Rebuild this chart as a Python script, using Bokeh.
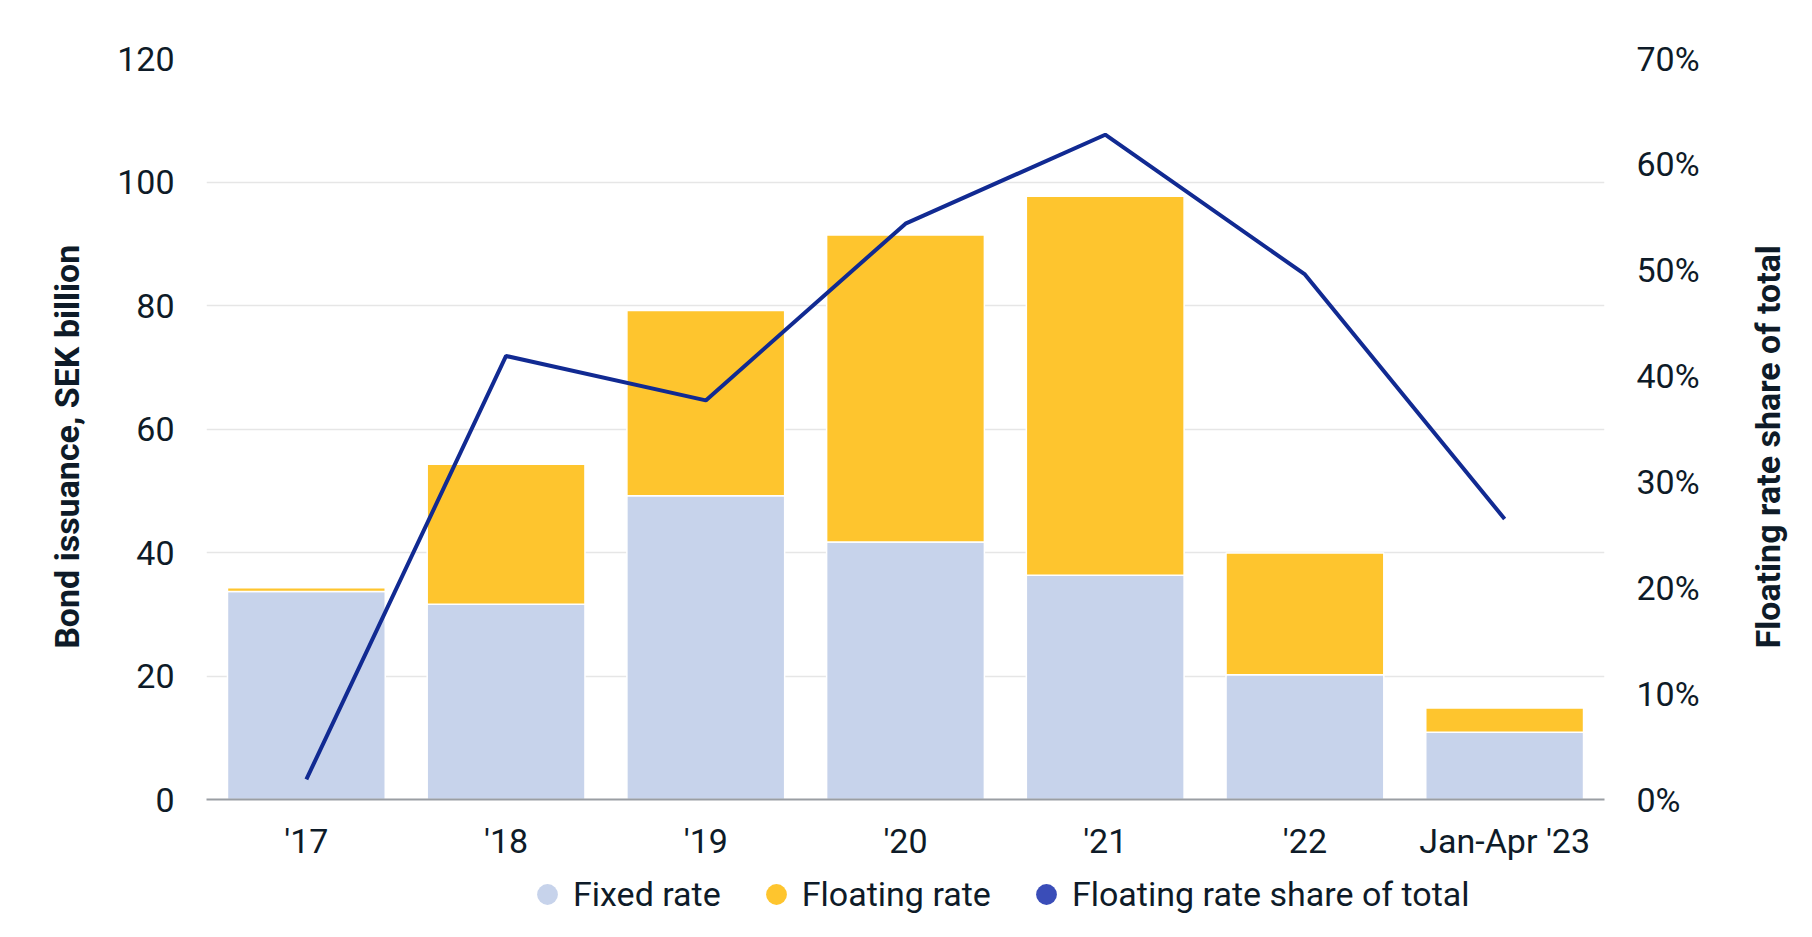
import math
from bokeh.plotting import figure
from bokeh.layouts import column, row
from bokeh.models import (Range1d, LinearAxis, FixedTicker, PrintfTickFormatter,
                          Legend, LegendItem, ColumnDataSource, FactorRange, Label)
from bokeh.embed import file_html
from bokeh.resources import INLINE

categories = ["'17", "'18", "'19", "'20", "'21", "'22", "Jan-Apr '23"]
fixed_rate = [33.7, 31.6, 49.2, 41.7, 36.3, 20.2, 10.9]
floating_rate = [0.6, 22.7, 30.0, 49.7, 61.4, 19.7, 3.9]
floating_share = [1.9, 41.9, 37.7, 54.4, 62.8, 49.6, 26.5]
left_ticks = [0, 20, 40, 60, 80, 100, 120]
right_ticks = [0, 10, 20, 30, 40, 50, 60, 70]
left_title = "Bond issuance, SEK billion"
right_title = "Floating rate share of total"

FIXED_C = "#c7d3eb"
FLOAT_C = "#fec52e"
LINE_C = "#112a92"
LEG_LINE_C = "#3a4db8"
TEXT_C = "#0e1b28"
FONT = "Roboto"
FS = "34px"

src = ColumnDataSource(dict(cat=categories, fixed=fixed_rate,
                            floating=floating_rate, share=floating_share))

p = figure(x_range=FactorRange(*categories), y_range=Range1d(0, 120),
           width=1630, height=866, output_backend="svg", toolbar_location=None,
           min_border_left=106, min_border_right=126, min_border_top=58,
           min_border_bottom=67, outline_line_color=None)
p.extra_y_ranges = {"pct": Range1d(0, 70)}

p.vbar_stack(["fixed", "floating"], x="cat", width=0.79, source=src,
             fill_color=[FIXED_C, FLOAT_C], line_color="white", line_width=1.5)
p.line(x="cat", y="share", source=src, y_range_name="pct",
       line_color=LINE_C, line_width=4)

right = LinearAxis(y_range_name="pct", ticker=FixedTicker(ticks=right_ticks),
                   formatter=PrintfTickFormatter(format="%d%%"))
p.add_layout(right, "right")
p.yaxis[0].ticker = FixedTicker(ticks=left_ticks)

for ax in p.yaxis:
    ax.axis_line_color = None
    ax.major_tick_line_color = None
    ax.major_tick_out = 0
    ax.minor_tick_line_color = None
    ax.minor_tick_out = 0
    ax.major_label_text_font = FONT
    ax.major_label_text_font_size = FS
    ax.major_label_text_color = TEXT_C
    ax.major_label_standoff = 32

xa = p.xaxis[0]
xa.axis_line_color = "#9a9ea3"
xa.axis_line_width = 2
xa.major_tick_line_color = None
xa.major_tick_out = 0
xa.minor_tick_line_color = None
xa.minor_tick_out = 0
xa.major_label_text_font = FONT
xa.major_label_text_font_size = FS
xa.major_label_text_color = TEXT_C
xa.major_label_standoff = 21

p.xgrid.grid_line_color = None
p.ygrid.grid_line_color = "#e6e6e6"
p.ygrid.grid_line_width = 1.5


def title_strip(width, text, xpos):
    f = figure(width=width, height=866, x_range=Range1d(0, 1), y_range=Range1d(0, 1),
               output_backend="svg", toolbar_location=None, min_border=0,
               outline_line_color=None, x_axis_location=None, y_axis_location=None)
    f.grid.visible = False
    f.add_layout(Label(x=xpos, y=0.476, text=text, angle=math.pi / 2,
                       text_align="center", text_baseline="middle", text_font=FONT,
                       text_font_size=FS, text_font_style="bold", text_color=TEXT_C))
    return f


lft = title_strip(100, left_title, 0.665)
rgt = title_strip(66, right_title, 0.57)

# legend strip below the chart
lf = figure(width=1796, height=55, x_range=Range1d(0, 1), y_range=Range1d(0, 1),
            output_backend="svg", toolbar_location=None, min_border=0,
            outline_line_color=None, x_axis_location=None, y_axis_location=None)
lf.grid.visible = False
nan = float("nan")
l1 = lf.scatter(x=[nan], y=[nan], fill_color=FIXED_C, line_color=None)
l2 = lf.scatter(x=[nan], y=[nan], fill_color=FLOAT_C, line_color=None)
l3 = lf.scatter(x=[nan], y=[nan], fill_color=LEG_LINE_C, line_color=None)

legend = Legend(items=[LegendItem(label="Fixed rate", renderers=[l1]),
                       LegendItem(label="Floating rate", renderers=[l2]),
                       LegendItem(label="Floating rate share of total", renderers=[l3])],
                orientation="horizontal", location=(521, 1),
                glyph_width=52, glyph_height=52, label_standoff=0, spacing=29,
                padding=0, margin=0, border_line_color=None, background_fill_alpha=0,
                label_text_font=FONT, label_text_font_size=FS,
                label_text_color=TEXT_C)
lf.add_layout(legend, "center")

layout = column(row(lft, p, rgt, spacing=0), lf, spacing=0)
open("out.html", "w").write(file_html(layout, INLINE))
